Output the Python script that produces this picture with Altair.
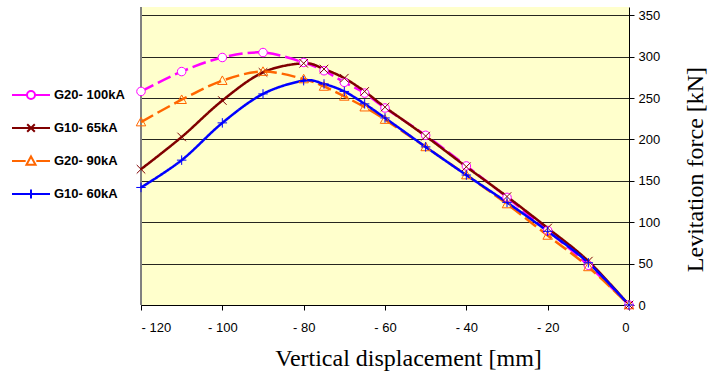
import altair as alt
import pandas as pd

# ---- data ----
displacement = [-120, -110, -100, -90, -80, -75, -70, -65, -60, -50, -40, -30, -20, -10, 0]
series_names = ["G20- 100kA", "G10- 65kA", "G20- 90kA", "G10- 60kA"]
g20_100 = [258, 282, 299, 305, 293, 283, 269, 256, 238, 205, 168, 130, 90, 48, 0]
g10_65 = [164, 203, 247, 281, 292, 285, 274, 258, 239, 204, 167, 131, 93, 53, 0]
g20_90 = [221, 248, 271, 282, 273, 264, 252, 239, 224, 191, 157, 122, 84, 46, 0]
g10_60 = [142, 175, 220, 255, 271, 267, 258, 243, 226, 191, 157, 124, 89, 51, 0]
x_ticks = [-120, -100, -80, -60, -40, -20, 0]
y_ticks = [0, 50, 100, 150, 200, 250, 300, 350]

# ---- styles ----
colors = ["#FF00FF", "#800000", "#FF6600", "#0000FF"]
dashes = [[14, 5], [1, 0], [14, 5], [1, 0]]
fills = ["white", "transparent", "transparent", "transparent"]
marker_paths = [
    "M0.9,0A0.9,0.9 0 1,1 -0.9,0A0.9,0.9 0 1,1 0.9,0Z",
    "M-0.9,-0.9L0.9,0.9M-0.9,0.9L0.9,-0.9",
    "M0,-1L1,0.8L-1,0.8Z",
    "M-1,0H1M0,-1V1",
]
legend_paths = [
    "M-1,0H-0.24M0.24,0H1M0.21,0A0.21,0.21 0 1,1 -0.21,0A0.21,0.21 0 1,1 0.21,0Z",
    "M-1,0H1M-0.2,-0.2L0.2,0.2M-0.2,0.2L0.2,-0.2",
    "M-1,0H-0.28M0.28,0H1M0,-0.24L0.24,0.2L-0.24,0.2Z",
    "M-1,0H1M0,-0.24V0.24",
]

rows = []
for name, vals in zip(series_names, [g20_100, g10_65, g20_90, g10_60]):
    for xv, yv in zip(displacement, vals):
        rows.append({"series": name, "x": xv, "y": yv})
df = pd.DataFrame(rows)

Y_MAX = 360

x_enc = alt.X(
    "x:Q",
    scale=alt.Scale(domain=[-120, 0], nice=False, zero=False),
    axis=alt.Axis(
        values=x_ticks,
        labelExpr="datum.value < 0 ? '- ' + abs(datum.value) : '0'",
        grid=False,
        domainColor="black",
        tickColor="black",
        tickSize=5,
        labelFont="Liberation Sans",
        labelFontSize=13,
        labelColor="black",
        labelPadding=11,
        title="Vertical displacement [mm]",
        titleFont="Liberation Serif",
        titleFontSize=24,
        titleFontWeight="normal",
        titleColor="black",
        titleX=267,
        titleY=60,
        titleAlign="center",
        titleBaseline="alphabetic",
    ),
)
y_enc = alt.Y(
    "y:Q",
    scale=alt.Scale(domain=[0, Y_MAX], nice=False),
    axis=alt.Axis(
        orient="right",
        values=y_ticks,
        grid=True,
        gridColor="black",
        gridOpacity=0.85,
        domainColor="black",
        tickColor="black",
        tickSize=5,
        labelFont="Liberation Sans",
        labelFontSize=13,
        labelColor="black",
        labelPadding=4,
        title="Levitation force [kN]",
        titleFont="Liberation Serif",
        titleFontSize=24,
        titleFontWeight="normal",
        titleColor="black",
        titleAngle=270,
        titleX=73,
        titleY=162,
        titleAlign="center",
        titleBaseline="alphabetic",
    ),
)

color_enc = alt.Color("series:N", scale=alt.Scale(domain=series_names, range=colors), legend=None)

lines = alt.Chart(df).mark_line(interpolate="cardinal", strokeWidth=2.5).encode(
    x=x_enc,
    y=y_enc,
    color=color_enc,
    strokeDash=alt.StrokeDash("series:N", scale=alt.Scale(domain=series_names, range=dashes), legend=None),
)

points = alt.Chart(df).mark_point(size=90, strokeWidth=1, opacity=1).encode(
    x="x:Q",
    y="y:Q",
    color=color_enc,
    fill=alt.Fill("series:N", scale=alt.Scale(domain=series_names, range=fills), legend=None),
    shape=alt.Shape("series:N", scale=alt.Scale(domain=series_names, range=marker_paths), legend=None),
)

leg = alt.Legend(
    orient="none",
    legendX=-130,
    legendY=68,
    title=None,
    padding=0,
    labelFont="Liberation Sans",
    labelFontSize=13,
    labelFontWeight="bold",
    labelColor="black",
    labelOffset=3,
    labelLimit=200,
    symbolSize=1444,
    symbolStrokeWidth=2,
    symbolOpacity=1,
    rowPadding=5,
)

legend_layer = alt.Chart(df).mark_point(opacity=0, filled=False).encode(
    x="x:Q",
    y="y:Q",
    stroke=alt.Stroke("series:N", scale=alt.Scale(domain=series_names, range=colors), legend=leg),
    shape=alt.Shape("series:N", scale=alt.Scale(domain=series_names, range=legend_paths), legend=leg),
)

left_edge = alt.Chart(df).mark_rule(color="#808080", strokeWidth=1).encode(
    x=alt.datum(-120),
    y=alt.datum(0),
    y2=alt.datum(Y_MAX),
)

chart = (
    alt.layer(left_edge, lines, points, legend_layer)
    .resolve_scale(stroke="independent", shape="independent")
    .properties(
        width=488,
        height=298,
        autosize=alt.AutoSizeParams(type="none"),
        padding={"left": 141, "top": 7, "right": 89, "bottom": 69},
        background="white",
    )
    .configure_view(fill="#FFFFCC", stroke=None)
)

chart.save("out.html", embed_options={"renderer": "svg", "actions": False})
